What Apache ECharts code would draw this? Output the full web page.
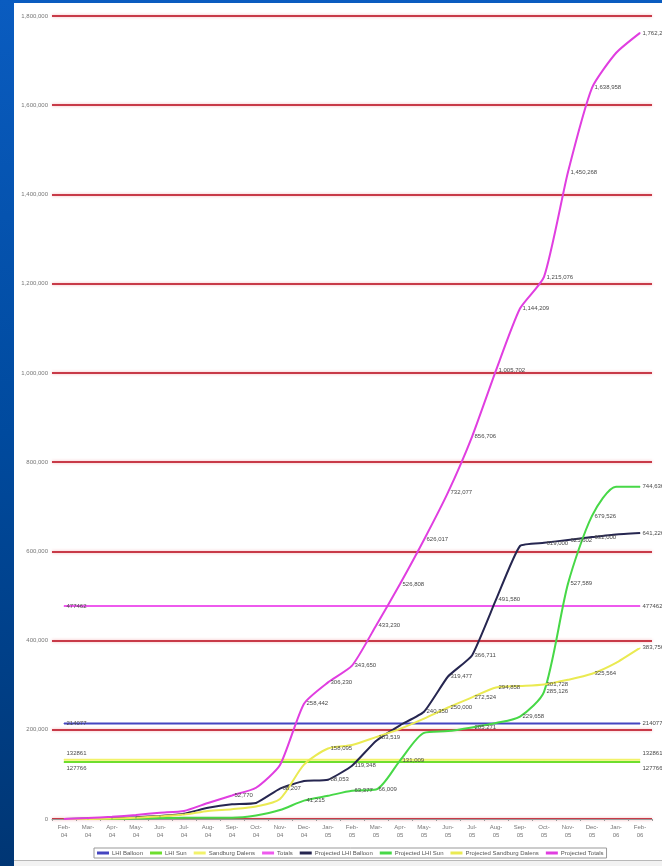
<!DOCTYPE html>
<html>
<head>
<meta charset="utf-8">
<script src="https://cdn.jsdelivr.net/npm/echarts@6/dist/echarts.min.js"></script>
<style>
  html, body { margin: 0; padding: 0; }
  body {
    width: 662px; height: 866px; overflow: hidden; position: relative;
    background: linear-gradient(180deg, #0a5cc0 0%, #004a9e 50%, #003674 100%);
  }
  #chart {
    position: absolute; left: 14px; top: 3px; width: 648px; height: 857px;
    background: #ffffff;
  }
  #foot {
    position: absolute; left: 14px; top: 860px; width: 648px; height: 6px;
    background: #f2f2f2; border-top: 1px solid #b8b8b8;
  }
</style>
</head>
<body>
<div id="chart"></div>
<div id="foot"></div>
<script>
// months Feb 04 .. Feb 06
var months = ['Feb-\n04','Mar-\n04','Apr-\n04','May-\n04','Jun-\n04','Jul-\n04','Aug-\n04','Sep-\n04','Oct-\n04','Nov-\n04','Dec-\n04',
  'Jan-\n05','Feb-\n05','Mar-\n05','Apr-\n05','May-\n05','Jun-\n05','Jul-\n05','Aug-\n05','Sep-\n05','Oct-\n05','Nov-\n05','Dec-\n05',
  'Jan-\n06','Feb-\n06'];

// current levels (flat lines)
var lhiBalloon = 214077;
var lhiSun = 127766;
var sandburg = 132861;
var totals = 477462;

// projections
var projBalloon = [0, 1000, 2000, 4000, 7000, 12000, 25000, 33000, 36000, 68207, 85000, 88053, 119348, 175000, 210000, 240350,
  319477, 366711, 491580, 612000, 619000, 625602, 632000, 638000, 641226];
var projSun = [0, 0, 0, 1000, 2000, 3000, 3000, 3000, 8000, 20000, 41215, 52000, 63377, 66009, 131009, 193000,
  197000, 205271, 215000, 229658, 285126, 527589, 679526, 744636, 744636];
var projSandburg = [0, 0, 1000, 3000, 6000, 10000, 18000, 22000, 28000, 45000, 121963, 158095, 166000, 183519, 202000, 225000,
  250000, 272524, 294858, 298000, 301728, 312000, 325564, 350000, 383756];
var projTotals = [0, 2000, 5000, 9000, 14000, 18000, 36000, 52770, 70000, 121000, 258442, 306230, 343650, 433230, 526808, 626017,
  732077, 856706, 1005702, 1144209, 1215076, 1450268, 1638958, 1717000, 1762226];

// which points carry a value label
var balloonLabels = [9, 11, 12, 15, 16, 17, 18, 20, 21, 22, 24];
var sunLabels = [10, 12, 13, 14, 17, 19, 20, 21, 22, 24];
var sandburgLabels = [11, 13, 16, 17, 18, 20, 22, 24];
var totalsLabels = [7, 10, 11, 12, 13, 14, 15, 16, 17, 18, 19, 20, 21, 22, 24];

var names = ['LHI Balloon', 'LHI Sun', 'Sandburg Dalens', 'Totals',
  'Projected LHI Balloon', 'Projected LHI Sun', 'Projected Sandburg Dalens', 'Projected Totals'];

function fmt(v) { return String(v).replace(/\B(?=(\d{3})+(?!\d))/g, ','); }

var labelStyle = { show: true, position: 'right', distance: 2, fontSize: 6, color: '#4a4a4a', fontFamily: 'Liberation Sans' };

function withLabels(arr, idx) {
  return arr.map(function (v, i) {
    if (idx.indexOf(i) < 0) return v;
    return { value: v, label: labelStyle };
  });
}

function flat(v, dy) {
  return months.map(function (m, i) {
    if (i === 0 || i === months.length - 1) {
      return { value: v, label: Object.assign({}, labelStyle, { offset: [0, dy], formatter: String(v) }) };
    }
    return v;
  });
}

function line(name, data, color, z, smooth) {
  return {
    name: name, type: 'line', data: data, z: z,
    symbol: 'circle', symbolSize: 1, showSymbol: true, smooth: smooth,
    itemStyle: { color: color },
    lineStyle: { color: color, width: 2 },
    label: { show: false, formatter: function (p) { return fmt(p.value); } },
    emphasis: { disabled: true }
  };
}

var chart = echarts.init(document.getElementById('chart'));
chart.setOption({
  animation: false,
  textStyle: { fontFamily: 'Liberation Sans' },
  grid: { left: 38, right: 10, top: 13, bottom: 41 },
  legend: {
    left: 80, top: 845,
    data: names,
    icon: 'rect', itemWidth: 12, itemHeight: 3, itemGap: 7,
    padding: [2, 3], borderColor: '#999', borderWidth: 1,
    textStyle: { fontSize: 6, color: '#555', padding: [0, 0, 0, -2] }
  },
  xAxis: {
    type: 'category', data: months, boundaryGap: true,
    axisLine: { lineStyle: { color: '#999', width: 1 } },
    axisTick: { show: true, length: 2, lineStyle: { color: '#999' } },
    axisLabel: { fontSize: 6, lineHeight: 8, color: '#777', margin: 4, interval: 0 },
    splitLine: { show: false }
  },
  yAxis: {
    type: 'value', min: 0, max: 1800000, interval: 200000,
    axisLine: { show: false }, axisTick: { show: false },
    axisLabel: { fontSize: 6, color: '#777', margin: 4, formatter: fmt },
    splitLine: { lineStyle: { color: '#c83a48', width: 2, shadowColor: 'rgba(230,90,100,0.45)', shadowBlur: 3 } }
  },
  series: [
    line(names[0], flat(lhiBalloon, 0), '#4545c0', 3, false),
    line(names[1], flat(lhiSun, 6), '#6ede2e', 3, false),
    line(names[2], flat(sandburg, -6), '#f2f26a', 3, false),
    line(names[3], flat(totals, 0), '#ee5aee', 3, false),
    line(names[4], withLabels(projBalloon, balloonLabels), '#262650', 4, 0.15),
    line(names[5], withLabels(projSun, sunLabels), '#47d847', 4, 0.25),
    line(names[6], withLabels(projSandburg, sandburgLabels), '#eaea52', 4, 0.25),
    line(names[7], withLabels(projTotals, totalsLabels), '#e03ee0', 5, 0.2)
  ]
});
</script>
</body>
</html>
